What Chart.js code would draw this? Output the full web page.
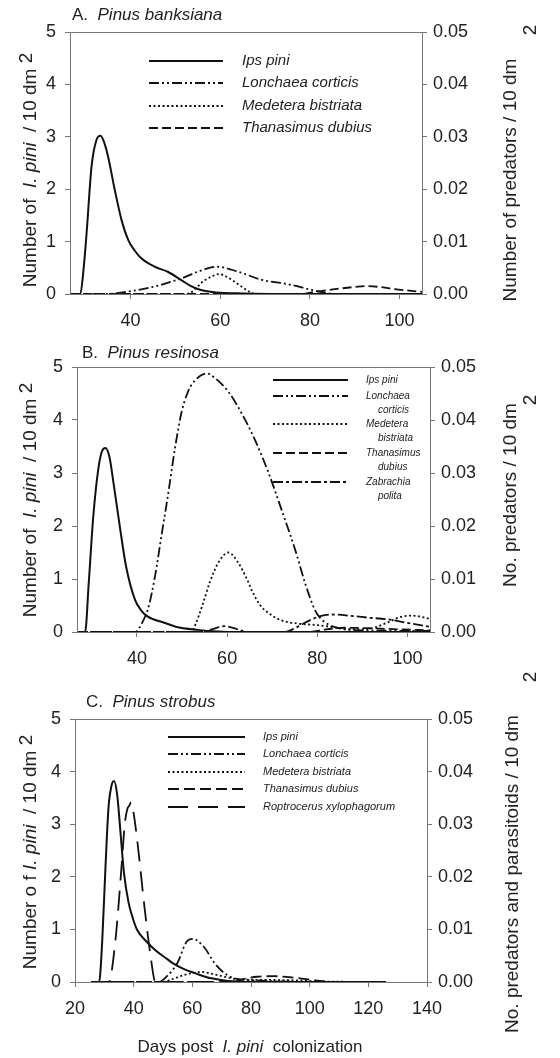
<!DOCTYPE html>
<html>
<head>
<meta charset="utf-8">
<script src="https://cdn.jsdelivr.net/npm/chart.js@4.4.0/dist/chart.umd.min.js"></script>
<style>
body { margin: 0; background: #fff; }
#page { position: relative; width: 560px; height: 1058px; font-family: "Liberation Sans", Arial, sans-serif; color: #222; overflow: hidden; }
canvas { position: absolute; left: 0; }
.t { position: absolute; white-space: pre; font-size: 17px; line-height: 22px; }
.rot { position: absolute; white-space: pre; font-size: 19px; line-height: 22px; transform: translate(-50%, -50%) rotate(-90deg); }
.sup { position: relative; top: -4px; }
</style>
</head>
<body>
<div id="page">
  <canvas id="chartA" width="560" height="330" style="top:0px"></canvas>
  <canvas id="chartB" width="560" height="340" style="top:330px"></canvas>
  <canvas id="chartC" width="560" height="388" style="top:670px"></canvas>

  <div class="t" style="left:72px; top:4px">A.  <i>Pinus banksiana</i></div>
  <div class="t" style="left:82px; top:342px">B.  <i>Pinus resinosa</i></div>
  <div class="t" style="left:86px; top:691px">C.  <i>Pinus strobus</i></div>

  <div class="rot" style="left:30px; top:170px">Number of  <i>I. pini</i>  / 10 dm <span class="sup">2</span></div>
  <div class="rot" style="left:30px; top:500px">Number of  <i>I. pini</i>  / 10 dm <span class="sup">2</span></div>
  <div class="rot" style="left:30px; top:852px">Number o f <i>I. pini</i>  / 10 dm <span class="sup">2</span></div>

  <div class="rot" style="left:510px; top:180px">Number of predators / 10 dm</div>
  <div class="rot" style="left:530px; top:30px">2</div>
  <div class="rot" style="left:510px; top:495px">No. predators / 10 dm</div>
  <div class="rot" style="left:530px; top:400px">2</div>
  <div class="rot" style="left:512px; top:874px">No. predators and parasitoids / 10 dm</div>
  <div class="rot" style="left:530px; top:677px">2</div>

  <div class="t" style="left:250px; top:1036px; transform:translateX(-50%)">Days post  <i>I. pini</i>  colonization</div>
</div>

<script>
// tick values
var xTicksAB = [40, 60, 80, 100];
var xTicksC = [20, 40, 60, 80, 100, 120, 140];
var leftTicks = [0, 1, 2, 3, 4, 5];
var rightTicks = [0, 0.01, 0.02, 0.03, 0.04, 0.05];

// A. Pinus banksiana  [day, value]
var ipsA = [[26.5,0],[28.8,0],[29.5,0.45],[30.2,1.16],[31.3,2.43],[32.4,2.94],[33.3,3.02],[34.1,2.9],[35.0,2.62],[36.5,1.98],[38.0,1.41],[39.5,1.03],[41,0.82],[42.4,0.68],[45.4,0.52],[48.4,0.42],[51.4,0.26],[53.5,0.15],[55.5,0.08],[59,0.03],[65,0.01],[80,0],[105,0]];
var lonchA = [[26.5,0],[35,0],[39,0.0004],[45.2,0.0014],[51.4,0.003],[55.5,0.0044],[59.3,0.0052],[63.8,0.0043],[69.3,0.0027],[74.9,0.0019],[80.4,0.0008],[83.1,0.0003],[86,0],[105,0]];
var medA = [[26.5,0],[52,0],[53.5,0.0003],[56.2,0.0024],[58,0.0033],[59.7,0.0038],[61.4,0.0033],[63.1,0.0024],[66.6,0.0004],[68,0],[105,0]];
var thanA = [[26.5,0],[78,0],[80.4,0.0003],[84.5,0.0008],[90.7,0.0014],[93,0.0015],[96,0.0013],[99.3,0.0009],[105,0.0004]];

// B. Pinus resinosa
var ipsB = [[26.7,0],[28.5,0],[29.3,0.92],[30.3,2.17],[31.4,3.06],[32.2,3.4],[33.0,3.47],[33.9,3.3],[34.8,2.81],[36.2,1.99],[37.6,1.23],[39.6,0.6],[41,0.4],[42.4,0.29],[45.9,0.18],[48.6,0.1],[53.5,0.04],[58,0.01],[62,0],[105,0]];
var lonchB = [[26.7,0],[39.6,0],[41.3,0.002],[42.5,0.0045],[44,0.0105],[45.5,0.0185],[47,0.0265],[48.4,0.0345],[49.9,0.0415],[51.4,0.0455],[52.9,0.0475],[55.5,0.0488],[57.3,0.0479],[60.3,0.0453],[63.2,0.0413],[66.2,0.0362],[69.2,0.03],[72.1,0.023],[75.1,0.0155],[77.3,0.0092],[79.5,0.0041],[80.8,0.0025],[83,0.0012],[86,0.0005],[90,0.0003],[105,0.0002]];
var medB = [[26.7,0],[52,0],[53,0.0015],[54.5,0.005],[56.2,0.0095],[58,0.013],[60.3,0.015],[62.5,0.013],[64.5,0.0098],[65.5,0.0078],[67.3,0.0051],[69.3,0.0035],[72,0.0022],[75.5,0.0016],[80,0.0013],[84.5,0.0008],[88,0.0005],[91.4,0.0006],[95.6,0.0018],[98.3,0.0028],[101,0.0031],[105,0.0025]];
var thanB = [[26.7,0],[78,0],[82,0.0005],[86,0.0008],[92,0.0007],[98,0.0005],[105,0.0003]];
var zabB = [[26.7,0],[54,0],[57,0.0006],[59.3,0.0011],[62,0.0006],[64.4,0],[72.8,0],[75,0.0007],[76.9,0.0016],[80.7,0.003],[83.1,0.0033],[88,0.003],[91.4,0.0027],[95.6,0.0024],[99.4,0.0018],[105,0.001]];

// C. Pinus strobus
var ipsC = [[25.5,0],[28.2,0],[29.3,0.8],[30.3,2.07],[31.4,3.3],[32.4,3.72],[33.3,3.82],[34.4,3.55],[35.5,2.85],[36.7,2.07],[38.3,1.5],[39.9,1.18],[41.2,0.99],[44.2,0.78],[47.5,0.6],[51.1,0.45],[53.3,0.36],[57,0.25],[61.3,0.16],[65,0.09],[69.8,0.04],[75,0.01],[80,0],[126,0]];
var lonchC = [[25.5,0],[48.5,0],[51.5,0.0012],[54.9,0.0036],[58.1,0.0077],[60.2,0.0082],[63.9,0.0067],[67.7,0.0035],[71.9,0.0013],[76.2,0.0005],[82,0.0003],[90,0.0001],[100,0],[126,0]];
var medC = [[25.5,0],[49.5,0],[53,0.0005],[57,0.0013],[60,0.0017],[63.4,0.0019],[67,0.0015],[70.9,0.001],[76,0.0005],[85,0.0004],[95,0.0003],[105,0.0001],[126,0]];
var thanC = [[25.5,0],[74,0],[77,0.0005],[82,0.001],[88,0.0011],[95,0.0008],[102,0.0003],[108,0],[126,0]];
var ropC = [[25.5,0],[31.5,0],[33.8,0.008],[35.7,0.0207],[37,0.0302],[37.9,0.033],[38.5,0.0335],[39.1,0.0342],[40,0.032],[41.2,0.027],[43.7,0.0142],[45.8,0.0048],[47.4,0],[126,0]];

// legend texts
var namesA = [["Ips pini"], ["Lonchaea corticis"], ["Medetera bistriata"], ["Thanasimus dubius"]];
var namesB = [["Ips pini"], ["Lonchaea", "corticis"], ["Medetera", "bistriata"], ["Thanasimus", "dubius"], ["Zabrachia", "polita"]];
var namesC = [["Ips pini"], ["Lonchaea corticis"], ["Medetera bistriata"], ["Thanasimus dubius"], ["Roptrocerus xylophagorum"]];

var axisCol = '#777';
var txtCol = '#222';
var tickFont = { family: '"Liberation Sans", Arial, sans-serif', size: 18 };

var dashIps = [];
var dashLonch = [10, 3, 2, 3, 2, 3];
var dashMed = [2, 2.5];
var dashThan = [9, 4];
var dashZab = [10, 3, 3, 3];
var dashRop = [20, 10];

function pts(arr) {
  return arr.map(function (p) { return { x: p[0], y: p[1] }; });
}

function line(label, arr, dash, axis, w) {
  return {
    label: label,
    data: pts(arr),
    borderColor: '#111',
    borderWidth: w || 1.8,
    borderDash: dash,
    yAxisID: axis,
    pointRadius: 0,
    fill: false,
    cubicInterpolationMode: 'monotone'
  };
}

// box round the plot area
var framePlugin = {
  id: 'frame',
  afterDatasetsDraw: function (chart) {
    var a = chart.chartArea, ctx = chart.ctx;
    ctx.save();
    ctx.strokeStyle = axisCol;
    ctx.lineWidth = 1;
    ctx.strokeRect(Math.round(a.left) + 0.5, Math.round(a.top) + 0.5, Math.round(a.right - a.left), Math.round(a.bottom - a.top));
    ctx.restore();
  }
};

// legend with line samples
var legendPlugin = {
  id: 'lineLegend',
  afterDraw: function (chart, args, o) {
    var ctx = chart.ctx;
    ctx.save();
    o.rows.forEach(function (y, i) {
      var ds = chart.data.datasets[i];
      ctx.beginPath();
      ctx.setLineDash(ds.borderDash);
      ctx.lineWidth = ds.borderWidth;
      ctx.strokeStyle = ds.borderColor;
      ctx.moveTo(o.x0, y);
      ctx.lineTo(o.x1, y);
      ctx.stroke();
      ctx.setLineDash([]);
      ctx.fillStyle = txtCol;
      ctx.font = o.font;
      ctx.textBaseline = 'middle';
      o.names[i].forEach(function (s, j) {
        ctx.fillText(s, j ? o.xt2 : o.xt, y + j * o.gap);
      });
    });
    ctx.restore();
  }
};

function makeChart(id, c) {
  return new Chart(document.getElementById(id), {
    type: 'line',
    data: { datasets: c.datasets },
    options: {
      responsive: false,
      animation: false,
      devicePixelRatio: 1,
      layout: { padding: { top: c.top, left: 0, right: 0, bottom: 0 } },
      plugins: {
        legend: { display: false },
        tooltip: { enabled: false },
        lineLegend: c.legend
      },
      scales: {
        x: {
          type: 'linear', min: c.xmin, max: c.xmax,
          afterBuildTicks: function (s) { s.ticks = c.xticks.map(function (v) { return { value: v }; }); },
          afterFit: function (s) { s.height = c.xh; },
          grid: { drawOnChartArea: false, tickLength: 5, color: axisCol },
          border: { display: false },
          ticks: { font: tickFont, color: txtCol, padding: 11, maxRotation: 0, autoSkip: false,
                   callback: function (v) { return String(v); } }
        },
        y: {
          position: 'left', min: 0, max: 5,
          afterBuildTicks: function (s) { s.ticks = leftTicks.map(function (v) { return { value: v }; }); },
          afterFit: function (s) { s.width = c.left; },
          grid: { drawOnChartArea: false, tickLength: 5, color: axisCol },
          border: { display: false },
          ticks: { font: tickFont, color: txtCol, padding: 9, callback: function (v) { return String(v); } }
        },
        y2: {
          position: 'right', min: 0, max: 0.05,
          afterBuildTicks: function (s) { s.ticks = rightTicks.map(function (v) { return { value: v }; }); },
          afterFit: function (s) { s.width = c.right; },
          grid: { drawOnChartArea: false, tickLength: 5, color: axisCol },
          border: { display: false },
          ticks: { font: tickFont, color: txtCol, padding: 6, callback: function (v) { return v.toFixed(2); } }
        }
      }
    },
    plugins: [framePlugin, legendPlugin]
  });
}

makeChart('chartA', {
  datasets: [
    line('Ips pini', ipsA, dashIps, 'y', 2),
    line('Lonchaea corticis', lonchA, dashLonch, 'y2'),
    line('Medetera bistriata', medA, dashMed, 'y2'),
    line('Thanasimus dubius', thanA, dashThan, 'y2')
  ],
  top: 32, xh: 36, left: 70, right: 138,
  xmin: 26.5, xmax: 105, xticks: xTicksAB,
  legend: { rows: [61, 83, 106, 128], x0: 149, x1: 223, xt: 242, xt2: 242, gap: 0, names: namesA,
            font: 'italic 15px "Liberation Sans", Arial, sans-serif' }
});

makeChart('chartB', {
  datasets: [
    line('Ips pini', ipsB, dashIps, 'y', 2),
    line('Lonchaea corticis', lonchB, dashLonch, 'y2'),
    line('Medetera bistriata', medB, dashMed, 'y2'),
    line('Thanasimus dubius', thanB, dashThan, 'y2'),
    line('Zabrachia polita', zabB, dashZab, 'y2')
  ],
  top: 37, xh: 38, left: 77, right: 130,
  xmin: 26.7, xmax: 105, xticks: xTicksAB,
  legend: { rows: [50, 66, 94, 123, 152], x0: 273, x1: 348, xt: 366, xt2: 378, gap: 14, names: namesB,
            font: 'italic 10px "Liberation Sans", Arial, sans-serif' }
});

makeChart('chartC', {
  datasets: [
    line('Ips pini', ipsC, dashIps, 'y', 2),
    line('Lonchaea corticis', lonchC, dashLonch, 'y2'),
    line('Medetera bistriata', medC, dashMed, 'y2'),
    line('Thanasimus dubius', thanC, [11, 5], 'y2'),
    line('Roptrocerus xylophagorum', ropC, dashRop, 'y2')
  ],
  top: 49, xh: 76, left: 75, right: 133,
  xmin: 20, xmax: 140, xticks: xTicksC,
  legend: { rows: [67, 84, 102, 119, 137], x0: 168, x1: 245, xt: 263, xt2: 263, gap: 0, names: namesC,
            font: 'italic 11px "Liberation Sans", Arial, sans-serif' }
});
</script>
</body>
</html>
